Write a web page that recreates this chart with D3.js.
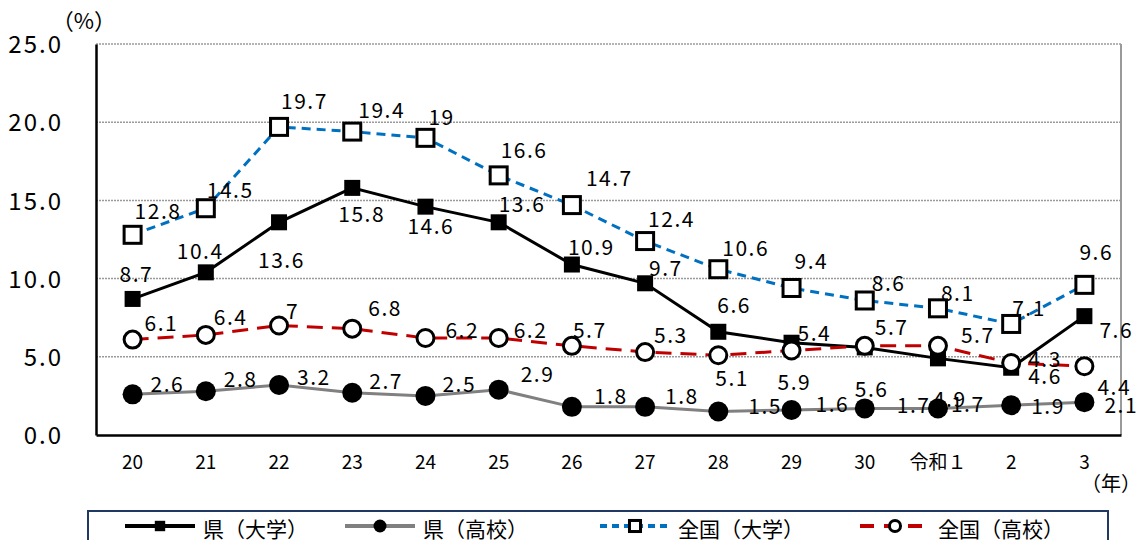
<!DOCTYPE html>
<html>
<head>
<meta charset="utf-8">
<script src="https://cdn.jsdelivr.net/npm/d3@7"></script>
<style>
  body { margin: 0; background: #fff; }
  svg text { font-family: 'Noto Sans CJK JP', 'Noto Sans', sans-serif; fill: #000; }
</style>
</head>
<body>
<svg id="chart" width="1141" height="540"></svg>
<script>
// years (Heisei 20 .. Reiwa 3)
var years = ['20', '21', '22', '23', '24', '25', '26', '27', '28', '29', '30', '令和１', '2', '3']
var yTicks = [0, 5, 10, 15, 20, 25]

var prefUniv = [8.7, 10.4, 13.6, 15.8, 14.6, 13.6, 10.9, 9.7, 6.6, 5.9, 5.6, 4.9, 4.3, 7.6]
var prefHigh = [2.6, 2.8, 3.2, 2.7, 2.5, 2.9, 1.8, 1.8, 1.5, 1.6, 1.7, 1.7, 1.9, 2.1]
var natUniv = [12.8, 14.5, 19.7, 19.4, 19, 16.6, 14.7, 12.4, 10.6, 9.4, 8.6, 8.1, 7.1, 9.6]
var natHigh = [6.1, 6.4, 7, 6.8, 6.2, 6.2, 5.7, 5.3, 5.1, 5.4, 5.7, 5.7, 4.6, 4.4]

// label nudges (left edge / vertical centre relative to the marker), hand placed like the original
var prefUnivLabelPos = [[-13, -24], [-29, -21], [-21, 38], [-14, 27], [-18, 20], [0, -18], [-4, -17], [4, -15], [-1, -26], [-14, 40], [-10, 42], [-5, 41], [17, -8], [15, 14]]
var prefHighLabelPos = [[18, -10], [18, -12], [18, -8], [17, -11], [17, -11], [22, -15], [22, -10], [20, -10], [30, -5], [24, -6], [32, -3], [13, -4], [20, 1], [20, 3]]
var natUnivLabelPos = [[2, -23], [1, -18], [2, -25], [6, -21], [3, -20], [2, -25], [14, -27], [3, -22], [4, -21], [3, -27], [7, -17], [3, -15], [1, -16], [-5, -32]]
var natHighLabelPos = [[12, -16], [8, -17], [7, -14], [16, -20], [20, -8], [15, -8], [1, -15], [9, -17], [-3, 23], [6, -17], [10, -18], [23, -10], [17, 13], [13, 21]]

var margin = { left: 96, top: 44, right: 20, bottom: 105 }
var width = 1141
var height = 540
var plotW = width - margin.left - margin.right
var plotH = height - margin.top - margin.bottom

var svg = d3.select('#chart')

var x = d3.scaleBand().domain(years).range([margin.left, margin.left + plotW])
var y = d3.scaleLinear().domain([0, 25]).range([margin.top + plotH, margin.top])
var cx = function (i) { return x(years[i]) + x.bandwidth() / 2 }

// gridlines
svg.append('g').selectAll('line')
  .data(yTicks.filter(function (d) { return d > 0 }))
  .enter().append('line')
  .attr('x1', margin.left).attr('x2', margin.left + plotW)
  .attr('y1', function (d) { return y(d) }).attr('y2', function (d) { return y(d) })
  .attr('stroke', '#9a9a9a').attr('stroke-width', 1.5).attr('stroke-dasharray', '2,1')

// right border of plot
svg.append('line')
  .attr('x1', margin.left + plotW).attr('x2', margin.left + plotW)
  .attr('y1', margin.top).attr('y2', margin.top + plotH)
  .attr('stroke', '#9a9a9a').attr('stroke-width', 2)

// axes
var yAxis = d3.axisLeft(y).tickValues(yTicks).tickSize(0).tickFormat(d3.format('.1f'))
var gy = svg.append('g').attr('transform', 'translate(' + margin.left + ',0)').call(yAxis)
gy.select('.domain').attr('stroke', '#000').attr('stroke-width', 2.5)
gy.selectAll('text').attr('x', -33).style('font-size', '24px').style('letter-spacing', '2px')
  .attr('dy', '0.36em')

var xAxis = d3.axisBottom(x).tickSize(0)
var gx = svg.append('g').attr('transform', 'translate(0,' + (margin.top + plotH) + ')').call(xAxis)
gx.select('.domain').attr('stroke', '#000').attr('stroke-width', 2.5)
gx.selectAll('text').attr('y', 27).attr('dy', '0.36em').style('font-size', '19px')

svg.append('text').text('（%）').attr('x', 84).attr('y', 21).attr('text-anchor', 'middle')
  .attr('dy', '0.36em').style('font-size', '22px')
svg.append('text').text('（年）').attr('x', 1111).attr('y', 484).attr('text-anchor', 'middle')
  .attr('dy', '0.36em').style('font-size', '20px')

var series = [
  { name: '県（高校）', values: prefHigh, labels: prefHighLabelPos, color: '#808080', dash: null, marker: 'dot' },
  { name: '県（大学）', values: prefUniv, labels: prefUnivLabelPos, color: '#000000', dash: null, marker: 'bsquare' },
  { name: '全国（大学）', values: natUniv, labels: natUnivLabelPos, color: '#0070C0', dash: '9,6', marker: 'wsquare' },
  { name: '全国（高校）', values: natHigh, labels: natHighLabelPos, color: '#C00000', dash: '16,9', marker: 'circle' }
]

var line = d3.line()
  .x(function (d, i) { return cx(i) })
  .y(function (d) { return y(d) })

function drawMarker (g, type, px, py, small) {
  var k = small ? 0.65 : 1
  if (type === 'dot') {
    g.append('circle').attr('cx', px).attr('cy', py).attr('r', 10 * k).attr('fill', '#000')
  } else if (type === 'bsquare') {
    var s = 16 * k
    g.append('rect').attr('x', px - s / 2).attr('y', py - s / 2).attr('width', s).attr('height', s).attr('fill', '#000')
  } else if (type === 'wsquare') {
    var w = 17 * k
    g.append('rect').attr('x', px - w / 2).attr('y', py - w / 2).attr('width', w).attr('height', w)
      .attr('fill', '#fff').attr('stroke', '#000').attr('stroke-width', 3)
  } else {
    g.append('circle').attr('cx', px).attr('cy', py).attr('r', 8.5 * k)
      .attr('fill', '#fff').attr('stroke', '#000').attr('stroke-width', 3)
  }
}

series.forEach(function (s) {
  var g = svg.append('g')
  g.append('path').datum(s.values).attr('d', line)
    .attr('fill', 'none').attr('stroke', s.color).attr('stroke-width', 3)
    .attr('stroke-dasharray', s.dash)
  s.values.forEach(function (v, i) { drawMarker(g, s.marker, cx(i), y(v), false) })
})

// data labels on top
series.forEach(function (s) {
  svg.append('g').selectAll('text')
    .data(s.values)
    .enter().append('text')
    .attr('x', function (d, i) { return cx(i) + s.labels[i][0] })
    .attr('y', function (d, i) { return y(d) + s.labels[i][1] })
    .attr('dy', '0.36em')
    .style('font-size', '21px')
    .style('letter-spacing', '1.5px')
    .text(function (d) { return String(d) })
})

// legend
var legend = svg.append('g')
legend.append('rect').attr('x', 88).attr('y', 511).attr('width', 1020).attr('height', 40)
  .attr('fill', '#fff').attr('stroke', '#1F3864').attr('stroke-width', 2)
var legendItems = [series[1], series[0], series[2], series[3]]
var legendX = [125, 345, 600, 860]
legendItems.forEach(function (s, i) {
  var lx = legendX[i]
  var ly = 526
  legend.append('line').attr('x1', lx).attr('x2', lx + 70).attr('y1', ly).attr('y2', ly)
    .attr('stroke', s.color).attr('stroke-width', 4).attr('stroke-dasharray', s.dash ? (s.marker === 'circle' ? '14,10' : '7,5') : null)
  drawMarker(legend, s.marker, lx + 35, ly, true)
  legend.append('text').text(s.name).attr('x', lx + 78).attr('y', ly + 3).attr('dy', '0.36em')
    .style('font-size', '21px')
})
</script>
</body>
</html>
